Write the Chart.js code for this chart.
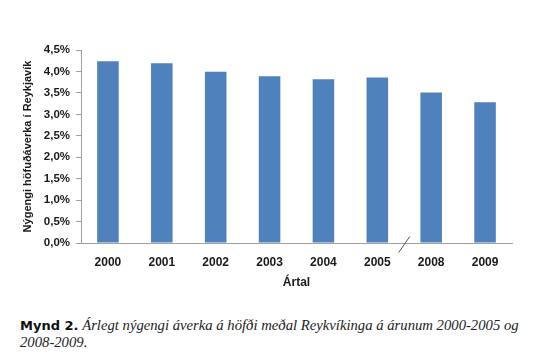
<!DOCTYPE html>
<html><head><meta charset="utf-8">
<script src="https://cdn.jsdelivr.net/npm/chart.js@4"></script>
<style>
html,body{margin:0;padding:0;background:#fff;width:550px;height:356px;overflow:hidden}
#wrap{position:absolute;left:0;top:0;width:550px;height:300px}
#cap{position:absolute;left:20px;top:317px;width:530px;font-family:"Liberation Serif",serif;font-style:italic;font-size:14.7px;line-height:17px;color:#222;white-space:nowrap}
#cap b{font-family:"DejaVu Sans",sans-serif;font-style:normal;font-weight:bold;font-size:13px;color:#111}
</style></head>
<body>
<div id="wrap"><canvas id="c" width="550" height="300"></canvas></div>
<div id="cap"><b>Mynd 2.</b> Árlegt nýgengi áverka á höfði meðal Reykvíkinga á árunum 2000-2005 og<br>2008-2009.</div>
<script>
const categories = ["2000","2001","2002","2003","2004","2005","2008","2009"];
const values = [4.24, 4.19, 3.99, 3.89, 3.82, 3.86, 3.51, 3.28];
const yAxisTitle = "Nýgengi höfuðáverka í Reykjavík";
const xAxisTitle = "Ártal";
const breakBetween = ["2005","2008"];

const breakPlugin = {
  id: 'breakMark',
  afterDraw(chart) {
    const xs = chart.scales.x, ys = chart.scales.y;
    const i = categories.indexOf(breakBetween[0]);
    const x = (xs.getPixelForValue(i) + xs.getPixelForValue(i + 1)) / 2;
    const y = ys.getPixelForValue(0);
    const ctx = chart.ctx;
    ctx.save();
    ctx.strokeStyle = '#555';
    ctx.lineWidth = 1;
    ctx.beginPath();
    ctx.moveTo(x - 5.5, y + 9.5);
    ctx.lineTo(x + 5.5, y - 6.5);
    ctx.stroke();
    ctx.restore();
  }
};

const F = 'Liberation Sans';
new Chart(document.getElementById('c'), {
  type: 'bar',
  data: {
    labels: categories,
    datasets: [{
      data: values,
      backgroundColor: '#4F81BD',
      borderWidth: 0,
      barPercentage: 0.4,
      categoryPercentage: 1.0
    }]
  },
  options: {
    responsive: false,
    animation: false,
    plugins: { legend: { display: false }, tooltip: { enabled: false } },
    layout: { padding: { top: 50, right: 38, left: 0, bottom: 6 } },
    scales: {
      x: {
        grid: { display: true, drawOnChartArea: false, drawTicks: false, color: '#a0a0a0' },
        border: { display: true, color: '#a0a0a0', width: 1 },
        ticks: { color: '#1a1a1a', padding: 12, font: { family: F, weight: 'bold', size: 12 } },
        title: { display: true, text: xAxisTitle, color: '#1a1a1a', padding: { top: 4, bottom: 4 }, font: { family: F, weight: 'bold', size: 12 } },
        afterFit(s) { s.height = 51; }
      },
      y: {
        min: 0, max: 4.5,
        grid: { display: true, drawOnChartArea: false, drawTicks: true, tickLength: 5, color: '#a0a0a0' },
        border: { display: true, color: '#a0a0a0', width: 1 },
        ticks: {
          stepSize: 0.5, color: '#1a1a1a', padding: 6,
          font: { family: F, weight: 'bold', size: 11.5 },
          callback: v => v.toFixed(1).replace('.', ',') + '%'
        },
        title: { display: true, text: yAxisTitle, color: '#1a1a1a', padding: { top: 21, bottom: 0 }, font: { family: F, weight: 'bold', size: 11 } },
        afterFit(s) { s.width = 81; }
      }
    }
  },
  plugins: [breakPlugin]
});
</script>
</body></html>
